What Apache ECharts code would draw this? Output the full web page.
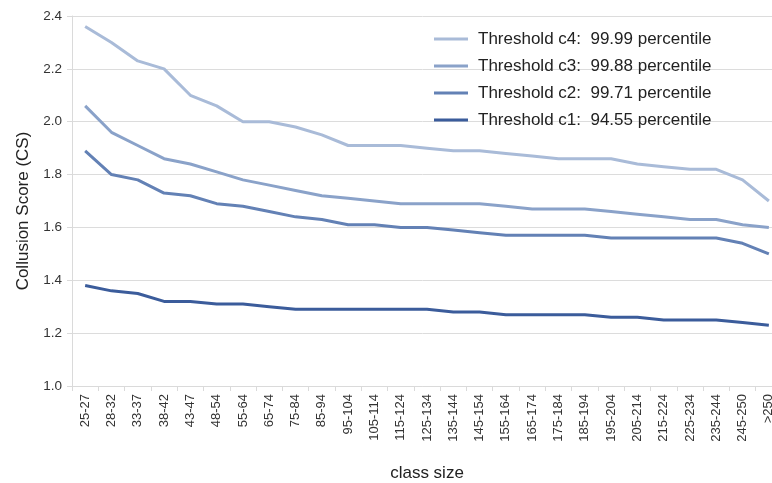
<!DOCTYPE html>
<html>
<head>
<meta charset="utf-8">
<script src="https://cdn.jsdelivr.net/npm/echarts@6/dist/echarts.min.js"></script>
<style>
html,body{margin:0;padding:0;background:#fff;}
#chart{width:772px;height:483px;}
</style>
</head>
<body>
<div id="chart"></div>
<script>
const categories = ["25-27","28-32","33-37","38-42","43-47","48-54","55-64","65-74","75-84","85-94","95-104","105-114","115-124","125-134","135-144","145-154","155-164","165-174","175-184","185-194","195-204","205-214","215-224","225-234","235-244","245-250",">250"];
const c4 = [2.36,2.30,2.23,2.20,2.10,2.06,2.00,2.00,1.98,1.95,1.91,1.91,1.91,1.90,1.89,1.89,1.88,1.87,1.86,1.86,1.86,1.84,1.83,1.82,1.82,1.78,1.70];
const c3 = [2.06,1.96,1.91,1.86,1.84,1.81,1.78,1.76,1.74,1.72,1.71,1.70,1.69,1.69,1.69,1.69,1.68,1.67,1.67,1.67,1.66,1.65,1.64,1.63,1.63,1.61,1.60];
const c2 = [1.89,1.80,1.78,1.73,1.72,1.69,1.68,1.66,1.64,1.63,1.61,1.61,1.60,1.60,1.59,1.58,1.57,1.57,1.57,1.57,1.56,1.56,1.56,1.56,1.56,1.54,1.50];
const c1 = [1.38,1.36,1.35,1.32,1.32,1.31,1.31,1.30,1.29,1.29,1.29,1.29,1.29,1.29,1.28,1.28,1.27,1.27,1.27,1.27,1.26,1.26,1.25,1.25,1.25,1.24,1.23];
const names = ["Threshold c4:  99.99 percentile","Threshold c3:  99.88 percentile","Threshold c2:  99.71 percentile","Threshold c1:  94.55 percentile"];
const colors = ["#a9bbd8","#8aa2c9","#6381b5","#3b5c9b"];
const seriesData = [c4, c3, c2, c1];

const chart = echarts.init(document.getElementById('chart'), null, {renderer:'canvas'});
const font = 'Liberation Sans, Arial, Helvetica, sans-serif';
chart.setOption({
  animation: false,
  textStyle: {fontFamily: font},
  grid: {left: 72, top: 16, right: -10, bottom: 97, containLabel: false, outerBoundsMode: 'none'},
  legend: {
    data: names,
    orient: 'vertical',
    left: 434, top: 29,
    padding: 0,
    icon: 'rect',
    itemWidth: 34, itemHeight: 3, itemGap: 7,
    textStyle: {fontSize: 17, lineHeight: 20, color: '#222', fontFamily: font, padding: [0,0,0,5]}
  },
  xAxis: {
    type: 'category',
    data: categories,
    boundaryGap: true,
    name: 'class size',
    nameLocation: 'middle',
    nameGap: 79,
    nameTextStyle: {fontSize: 17, color: '#222', fontFamily: font},
    axisLine: {lineStyle: {color: '#dadada', width: 1}},
    axisTick: {show: true, length: 5, lineStyle: {color: '#dadada'}},
    axisLabel: {rotate: 90, interval: 0, margin: 8, fontSize: 13, color: '#333', fontFamily: font}
  },
  yAxis: {
    type: 'value',
    min: 1.0, max: 2.4, interval: 0.2,
    name: 'Collusion Score (CS)',
    nameLocation: 'middle',
    nameGap: 40,
    nameRotate: 90,
    nameTextStyle: {fontSize: 17, color: '#222', fontFamily: font, padding: [0,20,0,0]},
    axisLine: {show: true, lineStyle: {color: '#dadada', width: 1}},
    axisTick: {show: true, length: 5, lineStyle: {color: '#dadada'}},
    axisLabel: {margin: 10, fontSize: 13.5, color: '#333', fontFamily: font, formatter: v => v.toFixed(1)},
    splitLine: {show: true, lineStyle: {color: '#dcdcdc', width: 1}}
  },
  series: seriesData.map((d, i) => ({
    name: names[i],
    type: 'line',
    data: d,
    symbol: 'none',
    color: colors[i],
    lineStyle: {color: colors[i], width: 3},
    itemStyle: {color: colors[i]}
  }))
});
</script>
</body>
</html>
